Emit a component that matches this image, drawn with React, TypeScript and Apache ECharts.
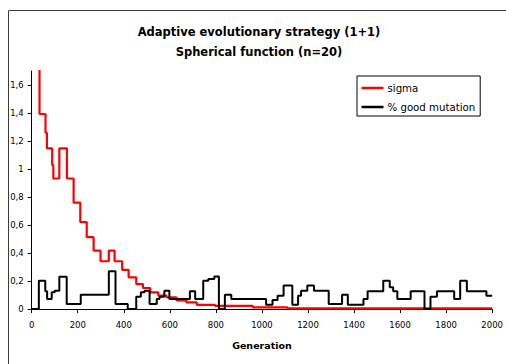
import React, { useEffect, useRef } from "react";
import * as echarts from "echarts";

const titleLines = ["Adaptive evolutionary strategy (1+1)", "Spherical function (n=20)"];
const xAxisName = "Generation";
const seriesNames = ["sigma", "% good mutation"];

// sigma: generation at which each step begins, and its value
const sigmaGen = [0, 34, 60, 66, 89, 94, 120, 153, 182, 211, 239, 269, 299, 335, 360, 393, 421, 454, 483, 515, 550, 586, 629, 672, 717, 796, 960, 1111, 2000];
const sigmaVal = [1.9, 1.393, 1.259, 1.147, 1.027, 0.932, 1.147, 0.932, 0.76, 0.621, 0.513, 0.417, 0.341, 0.417, 0.341, 0.279, 0.226, 0.178, 0.15, 0.119, 0.095, 0.083, 0.062, 0.047, 0.03, 0.023, 0.011, 0.004, 0.004];

// % good mutation: generation at which each step begins, and its value
const goodGen = [0, 31, 59, 67, 87, 100, 120, 152, 213, 335, 364, 417, 454, 474, 490, 512, 543, 555, 576, 598, 687, 710, 745, 767, 793, 813, 839, 867, 1018, 1046, 1068, 1094, 1132, 1157, 1170, 1197, 1226, 1290, 1348, 1373, 1441, 1459, 1527, 1555, 1570, 1588, 1646, 1706, 1732, 1760, 1835, 1861, 1890, 1975, 2000];
const goodVal = [0, 0.202, 0.126, 0.071, 0.119, 0.131, 0.231, 0.035, 0.102, 0.269, 0.035, 0, 0.088, 0.119, 0.131, 0.035, 0.071, 0.088, 0.131, 0.071, 0.126, 0.071, 0.202, 0.214, 0.233, 0, 0.102, 0.071, 0.031, 0.064, 0.095, 0.167, 0.031, 0.095, 0.131, 0.167, 0.13, 0.035, 0.102, 0.031, 0.071, 0.126, 0.202, 0.155, 0.126, 0.071, 0.126, 0, 0.088, 0.126, 0.071, 0.202, 0.126, 0.095, 0.095];

const yTicks = [0, 0.2, 0.4, 0.6, 0.8, 1, 1.2, 1.4, 1.6];
const xMin = 0;
const xMax = 2000;
const xInterval = 200;
const yMax = 1.7;

const FONT = "DejaVu Sans";

export default function App() {
  const ref = useRef<HTMLDivElement>(null);
  useEffect(() => {
    if (!ref.current) return;
    const chart = echarts.init(ref.current, null, { renderer: "svg" });
    const sigmaData = sigmaGen.map((g, i) => [g, sigmaVal[i]]);
    const goodData = goodGen.map((g, i) => [g, goodVal[i]]);
    const fmt = (v: number) => String(Math.round(v * 10) / 10).replace(".", ",");
    chart.setOption({
      animation: false,
      backgroundColor: "#ffffff",
      graphic: [
        {
          type: "rect",
          shape: { x: 8.5, y: 10.5, width: 600, height: 400 },
          style: { fill: "none", stroke: "#3a3a3a", lineWidth: 1 },
          silent: true,
        },
        {
          type: "text",
          x: 259,
          y: 32,
          style: { text: titleLines[0], font: `bold 11.5px "${FONT}"`, fill: "#000", textAlign: "center", textVerticalAlign: "middle" },
        },
        {
          type: "text",
          x: 259,
          y: 52,
          style: { text: titleLines[1], font: `bold 11.5px "${FONT}"`, fill: "#000", textAlign: "center", textVerticalAlign: "middle" },
        },
      ],
      grid: { left: 31.7, right: 9.3, top: 71, bottom: 55, containLabel: false },
      legend: {
        orient: "vertical",
        left: 357,
        top: 76,
        padding: [6, 5, 3, 4.5],
        itemGap: 7,
        itemWidth: 22,
        itemHeight: 2.5,
        icon: "rect",
        borderColor: "#000",
        borderWidth: 1,
        backgroundColor: "#fff",
        textStyle: { fontFamily: FONT, fontSize: 10.2, color: "#000", lineHeight: 12, padding: [0, 0, 0, -1] },
        data: seriesNames,
      },
      xAxis: {
        type: "value",
        min: xMin,
        max: xMax,
        interval: xInterval,
        name: xAxisName,
        nameLocation: "middle",
        nameGap: 31,
        nameTextStyle: { fontFamily: FONT, fontSize: 9.5, fontWeight: "bold", color: "#000" },
        splitLine: { show: false },
        axisLine: { lineStyle: { color: "#000", width: 1 } },
        axisTick: { show: true, length: 4, lineStyle: { color: "#000" } },
        axisLabel: { fontFamily: FONT, fontSize: 8.5, color: "#000", margin: 11, formatter: (v: number) => String(v) },
      },
      yAxis: {
        type: "value",
        min: 0,
        max: yMax,
        splitLine: { show: false },
        axisLine: { show: true, lineStyle: { color: "#000", width: 1 } },
        axisTick: { show: true, length: 4, lineStyle: { color: "#000" }, customValues: yTicks },
        axisLabel: { fontFamily: FONT, fontSize: 8.5, color: "#000", margin: 8, customValues: yTicks, formatter: fmt },
      },
      series: [
        {
          name: seriesNames[0],
          type: "line",
          step: "end",
          data: sigmaData,
          symbol: "none",
          clip: true,
          color: "#ff0000",
          lineStyle: { color: "#ff0000", width: 2.2 },
          z: 2,
        },
        {
          name: seriesNames[1],
          type: "line",
          step: "end",
          data: goodData,
          symbol: "none",
          clip: true,
          color: "#000000",
          lineStyle: { color: "#000000", width: 2 },
          z: 3,
        },
      ],
    });
    return () => chart.dispose();
  }, []);
  return <div ref={ref} style={{ position: "absolute", left: 0, top: 0, width: 506, height: 364 }} />;
}
